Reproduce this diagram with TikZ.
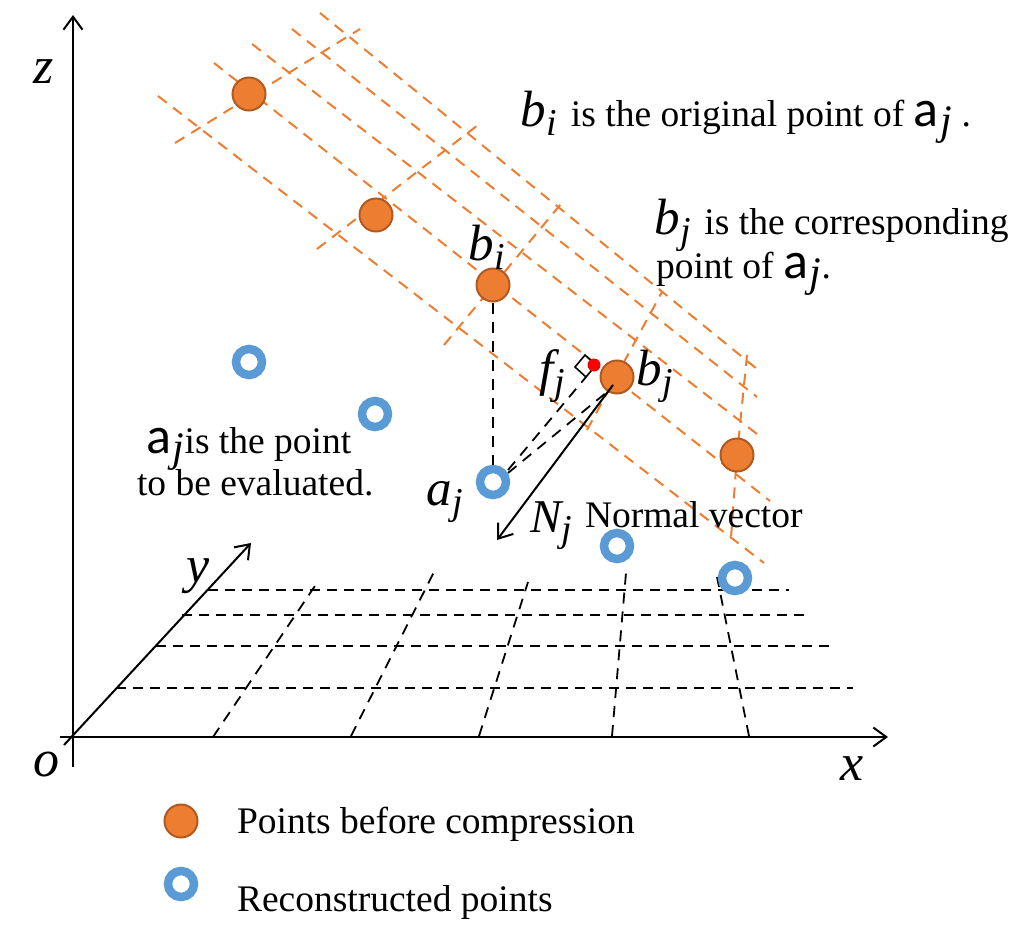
\documentclass[tikz,border=0pt]{standalone}
\usepackage{fontspec}
\setmainfont{Liberation Serif}
\newfontfamily\calfont{Carlito}
\usetikzlibrary{arrows.meta}
\definecolor{orangeline}{HTML}{ED7D31}
\definecolor{origedge}{HTML}{AE5A21}
\definecolor{recblue}{HTML}{5B9BD5}
\newcommand{\txtsize}{\fontsize{37.5}{40}\selectfont}
\newcommand{\mv}[2]{{\fontsize{51}{51}\selectfont\itshape #1\kern1pt\raisebox{-9pt}{\fontsize{38}{38}\selectfont #2}}}
\newcommand{\mvN}[2]{{\fontsize{47}{47}\selectfont\itshape #1\kern0.5pt\raisebox{-9pt}{\fontsize{38}{38}\selectfont #2}}}
\newcommand{\av}{{\calfont\fontsize{52}{52}\selectfont a\kern2pt\raisebox{-8pt}{\fontsize{42}{42}\selectfont\rmfamily\itshape j}}}
\tikzset{
  orangedash/.style={draw=orangeline,line width=2pt,dash pattern=on 11pt off 8pt},
  griddash/.style={draw=black,line width=2.2pt,dash pattern=on 10pt off 7pt},
  griddashthin/.style={draw=black,line width=1.8pt,dash pattern=on 11pt off 8pt},
  axisline/.style={draw=black,line width=2pt,-{Straight Barb[length=13pt,width=19pt,line width=2pt]}},
  origpt/.style={circle,draw=origedge,fill=orangeline,line width=2pt,minimum size=33pt,inner sep=0pt},
  recpt/.style={circle,draw=recblue,fill=white,line width=8.5pt,minimum size=26pt,inner sep=0pt},
  lbl/.style={anchor=base west,inner sep=0pt,outer sep=0pt,font=\txtsize},
  mathlbl/.style={anchor=base west,inner sep=0pt,outer sep=0pt,font=\fontsize{52}{52}\selectfont\itshape},
}
\begin{document}
\begin{tikzpicture}[x=1pt,y=-1pt]
\useasboundingbox (0,0) rectangle (1030,944);
% free ends
\coordinate (zs) at (73,767); \coordinate (ze) at (73,15);
\coordinate (xs) at (60,737); \coordinate (xe) at (888,737);
\coordinate (ys) at (64,745); \coordinate (ye) at (251,543);
\foreach \n/\xa/\ya/\xb/\yb in {
  L1/158/96/764/563, L2/214/63/770/501, L3/252/44/757/434, L4/292/29/757/397, L5/320/13/757/369,
  C1/175/143/360/29, C2/317/249/478/125, C3/444/345/565/199, C4/587/430/662/292,
  H1/208/590/789/590, H2/182/615/807/615, H3/156/646/833/646, H4/116/688/853/688,
  V1/213/737/319/580, V2/351/736/434/572, V3/479/736/528/582, V4/612/736/626/573, V5/749/736/717/577}{
  \coordinate (\n a) at (\xa,\ya); \coordinate (\n b) at (\xb,\yb);
}
\coordinate (C5a) at (747,355); \coordinate (C5m) at (737,455); \coordinate (C5b) at (731,538);
% orange guide lines
\foreach \n in {L1,L2,L3,L4,L5,C1,C2,C3,C4} \draw[orangedash] (\n a) -- (\n b);
\draw[orangedash] (C5a) -- (C5m) -- (C5b);
% grid
\foreach \n in {H1,H2,H3,H4} \draw[griddash] (\n a) -- (\n b);
\foreach \n in {V1,V2,V3,V4,V5} \draw[griddashthin] (\n a) -- (\n b);
% axes
\draw[axisline] (zs) -- (ze);
\draw[axisline] (xs) -- (xe);
\draw[axisline] (ys) -- (ye);
% points
\node[origpt] (b1) at (249,94) {};
\node[origpt] (b2) at (376,215) {};
\node[origpt] (bi) at (493,285) {};
\node[origpt] (bj) at (617,377) {};
\node[origpt] (b5) at (737,455) {};
\node[recpt] (a1) at (249,362) {};
\node[recpt] (a2) at (375,414) {};
\node[recpt] (aj) at (493,482) {};
\node[recpt] (a4) at (617,546) {};
\node[recpt] (a5) at (735,578) {};
\node[origpt] (legb) at (181,821) {};
\node[recpt] (lega) at (181,884) {};
% foot of perpendicular
\draw[black,line width=1.6pt] (585,355) -- (575,367) -- (586,377) -- (596,365) -- cycle;
\node[fill=red,circle,minimum size=13pt,inner sep=0pt] (fj) at (594,365) {};
\coordinate (njs) at (613,385); \coordinate (nje) at (497,540);
\coordinate (aj1) at (508,473); \coordinate (aj2) at (508,470);
\coordinate (bj1) at (607,392); \coordinate (fj1) at (586,377);
\draw[griddashthin] (bi) -- (aj);
\draw[griddashthin] (aj1) -- (bj1);
\draw[griddashthin] (aj2) -- (fj1);
\draw[black,line width=2pt,-{Straight Barb[length=13pt,width=19pt,line width=2pt]}] (njs) -- (nje);
% labels
\node[mathlbl] (lz) at (33,84) {z};
\node[mathlbl] (lx) at (840,780) {x};
\node[mathlbl] (ly) at (186,582) {y};
\node[mathlbl] (lo) at (33,776) {o};
\node[lbl] (lbi) at (468,260) {\mv{b}{i}};
\node[lbl] (lfj) at (539,385) {\mv{f}{j}};
\node[lbl] (lbj) at (636,385) {\mv{b}{j}};
\node[lbl] (laj) at (426,505) {\mv{a}{j}};
\node[lbl] (lnj) at (530,532) {\mvN{N}{j}};
\node[lbl] (lnv) at (585,527) {Normal vector};
\node[lbl] (t1) at (520,127) {\mv{b}{i}\kern4.5pt{} is the original point of \av\ .};
\node[lbl] (t2) at (654,234) {\mv{b}{j}\kern4pt{} is the corresponding};
\node[lbl] (t3) at (656,278) {point of \av.};
\node[lbl] (t4) at (146,453) {\av{}is the point};
\node[lbl] (t5) at (137,495) {to be evaluated.};
\node[lbl] (t6) at (237,833) {Points before compression};
\node[lbl] (t7) at (237,911) {Reconstructed points};
\end{tikzpicture}
\end{document}
